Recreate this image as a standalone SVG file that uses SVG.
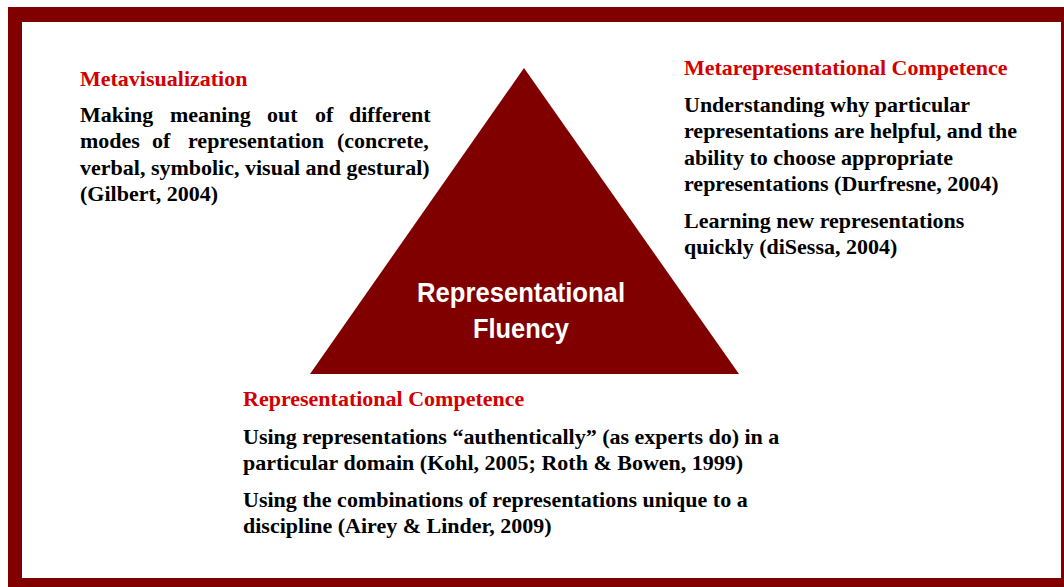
<svg xmlns="http://www.w3.org/2000/svg" width="1064" height="587" viewBox="0 0 1064 587">
  <style>
    .head { font-family: "Liberation Serif", "Times New Roman", serif; font-weight: bold; font-size: 22px; fill: #D20000; }
    .body { font-family: "Liberation Serif", "Times New Roman", serif; font-weight: bold; font-size: 22px; fill: #000000; }
    .center { font-family: "Liberation Sans", Arial, sans-serif; font-weight: bold; font-size: 28px; fill: #FFFFFF; }
  </style>
  <g id="frame">
    <rect x="8" y="7" width="1070" height="600" fill="#800000"/>
    <rect x="22" y="22" width="1039" height="556" fill="#FFFFFF"/>
  </g>
  <g id="triangle">
    <polygon points="524,68 739,374 310,374" fill="#800000"/>
    <text class="center" x="521" y="302" text-anchor="middle" textLength="208" lengthAdjust="spacingAndGlyphs">Representational</text>
    <text class="center" x="521" y="338" text-anchor="middle" textLength="96" lengthAdjust="spacingAndGlyphs">Fluency</text>
  </g>
  <g id="metavisualization">
    <text class="head" x="80" y="86">Metavisualization</text>
    <text class="body" y="122"><tspan x="80">Making</tspan><tspan x="170">meaning</tspan><tspan x="267">out</tspan><tspan x="315">of</tspan><tspan x="349">different</tspan></text>
    <text class="body" y="148"><tspan x="80">modes</tspan><tspan x="152">of</tspan><tspan x="188">representation</tspan><tspan x="337">(concrete,</tspan></text>
    <text class="body" x="80" y="175">verbal, symbolic, visual and gestural)</text>
    <text class="body" x="80" y="201">(Gilbert, 2004)</text>
  </g>
  <g id="metarepresentational-competence">
    <text class="head" x="684" y="75">Metarepresentational Competence</text>
    <text class="body" x="684" y="112">Understanding why particular</text>
    <text class="body" x="684" y="138">representations are helpful, and the</text>
    <text class="body" x="684" y="165">ability to choose appropriate</text>
    <text class="body" x="684" y="191">representations (Durfresne, 2004)</text>
    <text class="body" x="684" y="228">Learning new representations</text>
    <text class="body" x="684" y="254">quickly (diSessa, 2004)</text>
  </g>
  <g id="representational-competence">
    <text class="head" x="243" y="406">Representational Competence</text>
    <text class="body" x="243" y="444">Using representations “authentically” (as experts do) in a</text>
    <text class="body" x="243" y="470">particular domain (Kohl, 2005; Roth &amp; Bowen, 1999)</text>
    <text class="body" x="243" y="507">Using the combinations of representations unique to a</text>
    <text class="body" x="243" y="533">discipline (Airey &amp; Linder, 2009)</text>
  </g>
  <g id="connectors"/>
</svg>
